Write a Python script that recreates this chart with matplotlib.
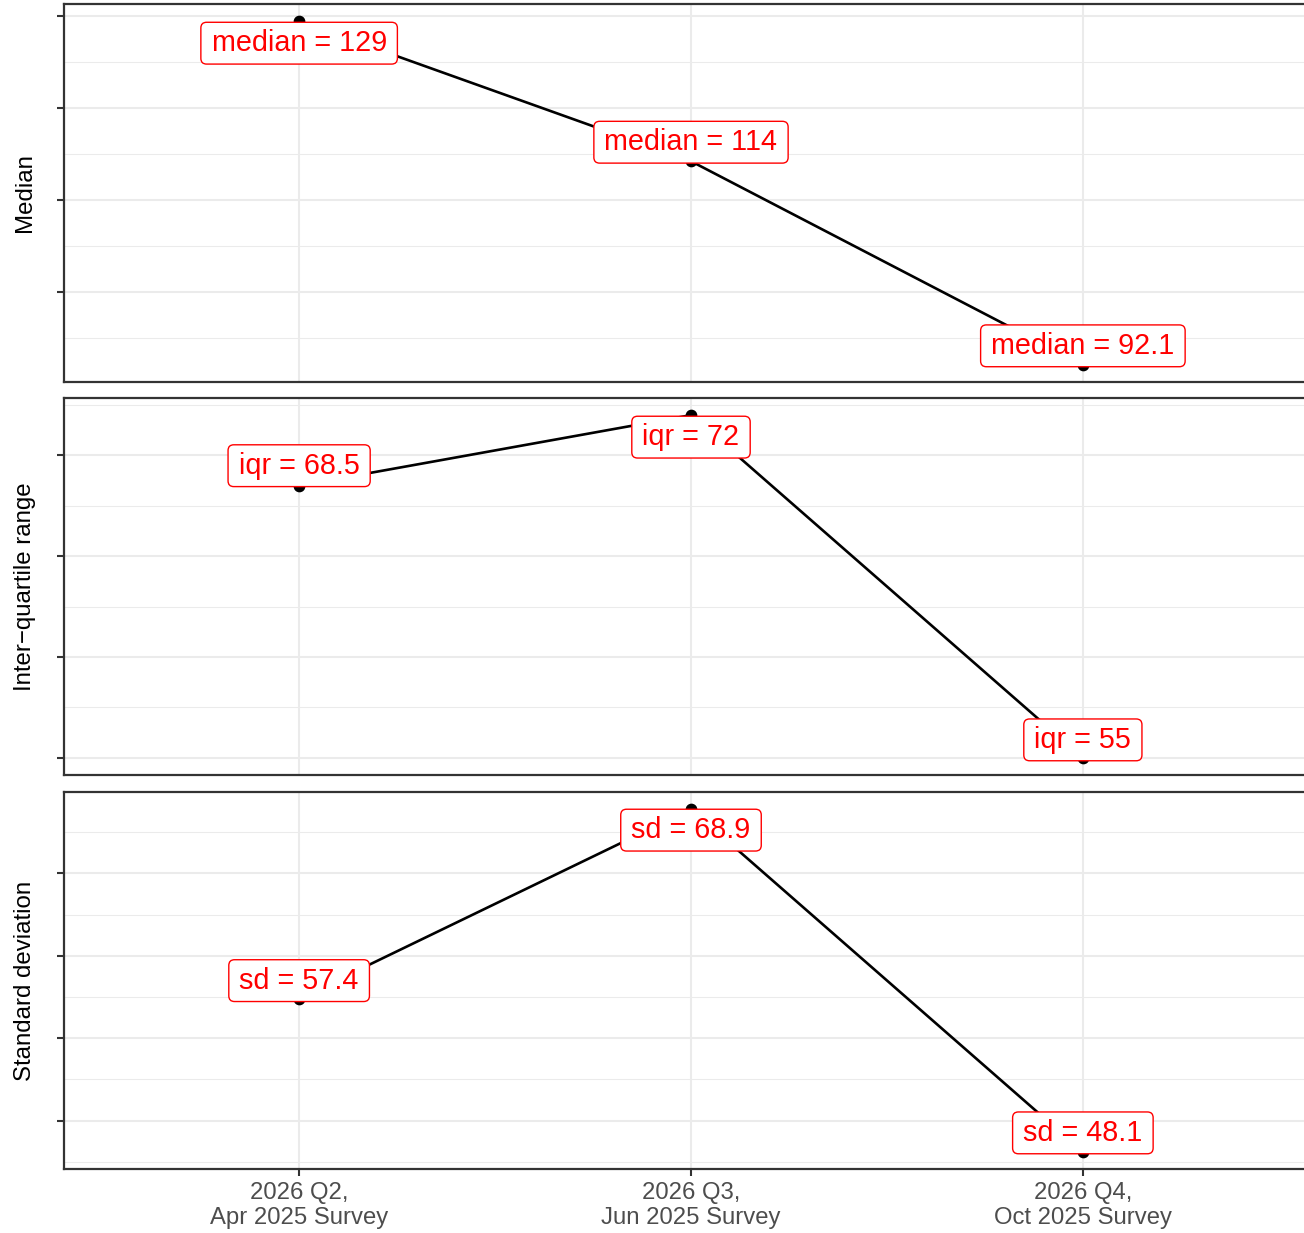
import matplotlib
matplotlib.use("Agg")
import matplotlib.pyplot as plt
from matplotlib.patches import BoxStyle
from matplotlib.ticker import MultipleLocator, NullFormatter

# survey rounds along the x axis
surveys = ["2026 Q2,\nApr 2025 Survey",
           "2026 Q3,\nJun 2025 Survey",
           "2026 Q4,\nOct 2025 Survey"]

# summary statistics per survey round
median_vals = [129.4, 114.2, 92.1]
iqr_vals = [68.5, 72.0, 55.0]
sd_vals = [57.4, 68.9, 48.1]

plt.rcParams["font.family"] = ["Liberation Sans", "DejaVu Sans"]


class WideRound(BoxStyle.Round):
    """Rounded box with a little more room left and right than top and bottom."""

    def __call__(self, x0, y0, width, height, mutation_size):
        extra = 0.13 * mutation_size
        return super().__call__(x0 - extra, y0, width + 2 * extra, height, mutation_size)


W, H = 1304, 1233
fig = plt.figure(figsize=(W / 100, H / 100), dpi=100)

# (title, label prefix, values, tick step, label offsets in px, panel top/bottom in px)
panels = [
    ("Median", "median", median_vals, 10, [-22, 19, 19], (4, 382)),
    ("Inter\u2212quartile range", "iqr", iqr_vals, 5, [20, -22, 18], (398, 775)),
    ("Standard deviation", "sd", sd_vals, 5, [18, -21, 19], (792, 1169)),
]

left, right = 64, 1318
dark = "#333333"
grid_col = "#EBEBEB"
x = list(range(len(surveys)))

for i, (title, prefix, vals, step, offs, (top, bot)) in enumerate(panels):
    ax = fig.add_axes([left / W, (H - bot) / H, (right - left) / W, (bot - top) / H])

    ax.plot(x, vals, color="black", lw=1.9, zorder=3)
    ax.scatter(x, vals, color="black", s=55, zorder=4)

    for xi, v, dy in zip(x, vals, offs):
        ax.annotate(f"{prefix} = {v:.3g}", (xi, v), xytext=(0, dy),
                    textcoords="offset pixels", ha="center", va="center",
                    fontsize=20.7, color="red", zorder=5, clip_on=False,
                    bbox=dict(boxstyle=WideRound(pad=0.24, rounding_size=0.2),
                              fc="white", ec="red", lw=1.0))

    lo, hi = min(vals), max(vals)
    pad = 0.05 * (hi - lo)
    ax.set_ylim(lo - pad, hi + pad)
    ax.set_xlim(-0.6, len(surveys) - 0.4)

    ax.yaxis.set_major_locator(MultipleLocator(step))
    ax.yaxis.set_minor_locator(MultipleLocator(step / 2))
    ax.yaxis.set_major_formatter(NullFormatter())
    ax.set_xticks(x)

    ax.set_axisbelow(True)
    ax.grid(which="major", color=grid_col, lw=1.5)
    ax.grid(which="minor", axis="y", color=grid_col, lw=0.75)

    for sp in ax.spines.values():
        sp.set_color(dark)
        sp.set_linewidth(1.6)

    ax.tick_params(axis="y", which="major", length=5, width=1.5, color=dark)
    ax.tick_params(axis="y", which="minor", length=0)

    if i == len(panels) - 1:
        ax.set_xticklabels(surveys, fontsize=17.2, color="#4D4D4D", linespacing=1.18)
        ax.tick_params(axis="x", length=5, width=1.5, color=dark, pad=4)
    else:
        ax.tick_params(axis="x", length=0, labelbottom=False)

    ax.set_ylabel(title, fontsize=17.3, color="black", ha="center", va="center")
    ax.yaxis.set_label_coords(-(64 - 25) / (right - left), 0.5)

fig.savefig("out.png", dpi=100)
